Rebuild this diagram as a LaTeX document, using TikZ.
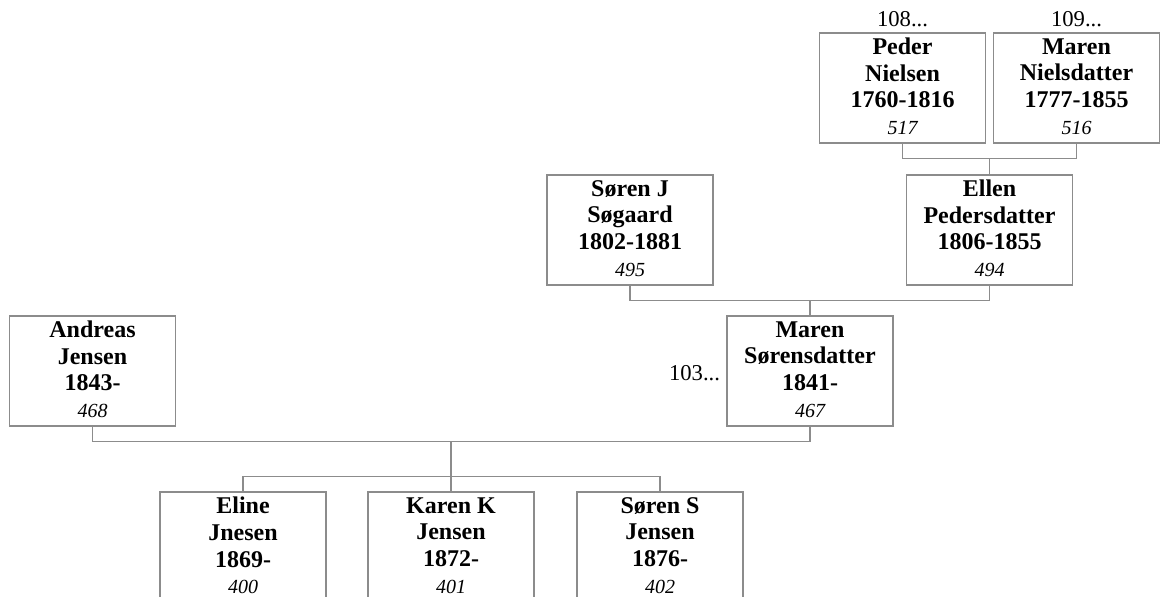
\documentclass[tikz,border=0pt]{standalone}
\usepackage{fontspec}
\setmainfont{Liberation Serif}
\usetikzlibrary{positioning}
\definecolor{boxline}{HTML}{8C8C8C}
\newcommand{\refno}[1]{{\fontsize{15}{20}\selectfont\mdseries\itshape #1}}

\begin{document}
\begin{tikzpicture}[x=0.75pt,y=-0.75pt,
    person/.style={draw=boxline, fill=white, line width=1.1pt, inner sep=0pt,
                   minimum width=124.5pt, minimum height=82.5pt, align=center,
                   text depth=2.5pt,
                   font=\fontsize{18}{20}\selectfont\bfseries},
    link/.style={boxline, line width=1.1pt},
    more/.style={inner sep=0pt, font=\fontsize{17}{17}\selectfont}]
  \useasboundingbox (0,0) rectangle (1166,596);
  \clip (0,0) rectangle (1166,596);

  % great-grandparents
  \node[person] (peder)  at (902.5,88)  {Peder\\Nielsen\\1760-1816\\\refno{517}};
  \node[person] (marenN) at (1076.5,88) {Maren\\Nielsdatter\\1777-1855\\\refno{516}};
  \node[more, above=4pt of peder]  (more108) {108...};
  \node[more, above=4pt of marenN] (more109) {109...};

  % grandparents
  \node[person] (sorenJ) at (630,230)   {Søren J\\Søgaard\\1802-1881\\\refno{495}};
  \node[person] (ellen)  at (989.5,230) {Ellen\\Pedersdatter\\1806-1855\\\refno{494}};

  % parents
  \node[person] (andreas) at (92.5,371) {Andreas\\Jensen\\1843-\\\refno{468}};
  \node[person] (marenS)  at (810,371)  {Maren\\Sørensdatter\\1841-\\\refno{467}};
  \node[more, left=4.5pt of marenS, yshift=-1.5pt] (more103) {103...};

  % children
  \node[person] (eline)  at (243,547) {Eline\\Jnesen\\1869-\\\refno{400}};
  \node[person] (karen)  at (451,547) {Karen K\\Jensen\\1872-\\\refno{401}};
  \node[person] (sorenS) at (660,547) {Søren S\\Jensen\\1876-\\\refno{402}};

  \draw[link] (peder.south) -- ++(0,15) coordinate (bus1) -| (marenN.south);
  \draw[link] (ellen.north) -- (ellen.north |- bus1);
  \draw[link] (sorenJ.south) -- ++(0,15) coordinate (bus2) -| (ellen.south);
  \draw[link] (marenS.north) -- (marenS.north |- bus2);
  \draw[link] (andreas.south) -- ++(0,15) coordinate (bus3) -| (marenS.south);
  \draw[link] (karen.north) -- (karen.north |- bus3);
  \draw[link] (eline.north) -- ++(0,-15) -| (sorenS.north);
\end{tikzpicture}
\end{document}
